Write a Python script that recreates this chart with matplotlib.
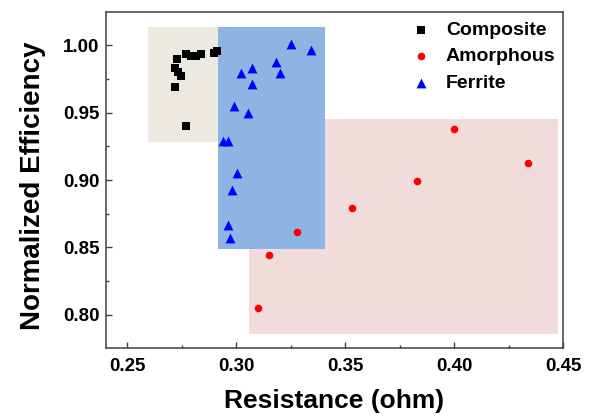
import numpy as np
import matplotlib
matplotlib.use('Agg')
import matplotlib.pyplot as plt
from matplotlib.patches import Rectangle

plt.rcParams['font.family'] = ['Liberation Sans', 'DejaVu Sans']
plt.rcParams['font.weight'] = 'bold'

# values
compositeR = [0.2726, 0.2719, 0.2734, 0.2747, 0.2719, 0.2768, 0.2768, 0.2791, 0.2814, 0.2837, 0.2898, 0.2909]
compositeEff = [0.9897, 0.9834, 0.9803, 0.9771, 0.9692, 0.9398, 0.9938, 0.9921, 0.9921, 0.9938, 0.9941, 0.9958]

amorphousR = [0.3099, 0.3151, 0.3280, 0.3531, 0.3829, 0.4000, 0.4336]
amorphousEff = [0.8053, 0.8440, 0.8615, 0.8790, 0.8992, 0.9378, 0.9123]

ferriteR = [0.3251, 0.3342, 0.3182, 0.3201, 0.3071, 0.3021, 0.3071, 0.2990, 0.3051,
            0.2940, 0.2959, 0.3001, 0.2980, 0.2961, 0.2970]
ferriteEff = [1.0007, 0.9965, 0.9879, 0.9798, 0.9834, 0.9798, 0.9716, 0.9551, 0.9497,
              0.9288, 0.9288, 0.9054, 0.8928, 0.8664, 0.8566]

# shaded regions: (xmin, xmax, ymin, ymax)
compositeRegion = (0.2592, 0.2915, 0.9285, 1.014)
ferriteRegion = (0.2915, 0.3408, 0.8487, 1.014)
amorphousRegion = (0.3056, 0.4475, 0.7857, 0.9453)

xTicks = [0.25, 0.30, 0.35, 0.40, 0.45]
yTicks = [0.80, 0.85, 0.90, 0.95, 1.00]


def addRegion(axes, region, color, z):
	x0, x1, y0, y1 = region
	axes.add_patch(Rectangle((x0, y0), x1 - x0, y1 - y0, facecolor=color, edgecolor='none', zorder=z))


fig = plt.figure(figsize=(5.92, 4.16), dpi=100)
ax = fig.add_axes([0.1785, 0.1627, 0.7731, 0.8092])

addRegion(ax, compositeRegion, '#ECE9E0', 1)
addRegion(ax, amorphousRegion, '#F2DCDB', 1)
addRegion(ax, ferriteRegion, '#8EB4E3', 2)

ax.scatter(compositeR, compositeEff, marker='s', s=26, c='black', linewidths=0, zorder=3, label='Composite')
ax.scatter(amorphousR, amorphousEff, marker='o', s=30, c='#FF0000', linewidths=0, zorder=3, label='Amorphous')
ax.scatter(ferriteR, ferriteEff, marker='^', s=50, c='#0000FF', linewidths=0, zorder=3, label='Ferrite')

ax.set_xlim(0.24, 0.45)
ax.set_ylim(0.775, 1.025)
ax.set_xticks(xTicks)
ax.set_yticks(yTicks)
ax.set_xticks([0.275, 0.325, 0.375, 0.425], minor=True)
ax.set_yticks([0.825, 0.875, 0.925, 0.975], minor=True)
ax.set_xticklabels(['%.2f' % t for t in xTicks])
ax.set_yticklabels(['%.2f' % t for t in yTicks])

ax.tick_params(which='major', direction='in', length=4.5, width=1.0, labelsize=13.5, color='#404040')
ax.tick_params(which='minor', direction='in', length=2.5, width=1.0, color='#404040')
ax.tick_params(axis='x', pad=7)
ax.tick_params(axis='y', pad=4.5)
for spine in ax.spines.values():
	spine.set_color('#404040')
	spine.set_linewidth(1.1)

ax.set_xlabel('Resistance (ohm)', fontsize=19, fontweight='bold')
ax.set_ylabel('Normalized Efficiency', fontsize=20, fontweight='bold')
ax.xaxis.set_label_coords(0.5, -0.12)
ax.yaxis.set_label_coords(-0.13, 0.484)

ax.legend(loc='upper right', bbox_to_anchor=(1.0, 0.995), frameon=False, fontsize=14,
	handlelength=1.0, handletextpad=0.8, labelspacing=0.46, borderaxespad=0.0,
	borderpad=0.4, scatterpoints=1)

fig.savefig('out.png', dpi=100)
